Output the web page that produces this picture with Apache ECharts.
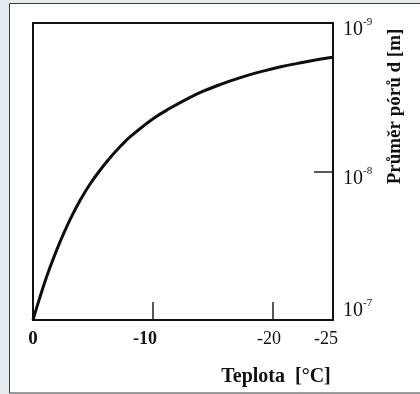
<!DOCTYPE html>
<html>
<head>
<meta charset="utf-8">
<script src="https://cdn.jsdelivr.net/npm/echarts@6/dist/echarts.min.js"></script>
<style>
  html, body { margin: 0; padding: 0; background: #e7ecf0; }
  #chart { width: 420px; height: 394px; }
</style>
</head>
<body>
<div id="chart"></div>
<script>
// Temperature (°C) and pore diameter d (m) along the freezing curve
const temperatures = [0, -0.25, -0.59, -1.0, -1.42, -1.98, -2.53, -3.24, -3.93, -4.77, -5.6, -6.44, -7.27, -8.11, -10.06, -11.45, -12.85, -14.24, -15.64, -17.14, -19.26, -20.65, -22.05, -23.44, -25];
const poreDiameters = [1.0e-7, 8.54e-8, 6.98e-8, 5.51e-8, 4.42e-8, 3.37e-8, 2.64e-8, 1.99e-8, 1.56e-8, 1.21e-8, 9.77e-9, 8.05e-9, 6.79e-9, 5.83e-9, 4.38e-9, 3.74e-9, 3.24e-9, 2.87e-9, 2.59e-9, 2.35e-9, 2.10e-9, 1.97e-9, 1.87e-9, 1.78e-9, 1.70e-9];

// Axis labels and inner ticks
const xLabelValues = [0, -10, -20, -25];
const xTickValues = [-10, -20];
const yLabelValues = [1e-9, 1e-8, 1e-7];
const yTickValues = [1e-8];

const SERIF = '"Liberation Serif", "DejaVu Serif", serif';

const chart = echarts.init(document.getElementById('chart'), null, { renderer: 'canvas' });

const xRich = {
  n0:  { fontFamily: SERIF, fontSize: 19, fontWeight: 'bold', color: '#111' },
  n10: { fontFamily: SERIF, fontSize: 18, fontWeight: 'bold', color: '#111', padding: [0, 16, 0, 0] },
  n20: { fontFamily: SERIF, fontSize: 18, color: '#111', padding: [0, 8, 0, 0] },
  n25: { fontFamily: SERIF, fontSize: 18, color: '#111', padding: [0, 14, 0, 0] }
};

const yRich = {
  b: { fontFamily: SERIF, fontSize: 20, color: '#111', lineHeight: 26, verticalAlign: 'middle' },
  s: { fontFamily: SERIF, fontSize: 11, color: '#111', lineHeight: 12, verticalAlign: 'top' },
  g: { fontSize: 10, lineHeight: 33 }
};

chart.setOption({
  backgroundColor: '#e7ecf0',
  animation: false,
  graphic: [{
    type: 'rect',
    z: -100,
    silent: true,
    shape: { x: 9.5, y: 3.5, width: 420, height: 389.5 },
    style: { fill: '#ffffff', stroke: '#3a3a3a', lineWidth: 1 }
  }],
  grid: {
    left: 33, right: 87, top: 23, bottom: 74,
    show: true,
    borderColor: '#111',
    borderWidth: 2,
    backgroundColor: 'transparent'
  },
  xAxis: {
    type: 'value',
    min: -25,
    max: 0,
    inverse: true,
    splitLine: { show: false },
    axisLine: { show: false, onZero: false },
    axisTick: {
      show: true,
      inside: true,
      length: 18,
      customValues: xTickValues,
      lineStyle: { color: '#222', width: 1.5 }
    },
    axisLabel: {
      show: true,
      margin: 10,
      customValues: xLabelValues,
      formatter: function (v) {
        const key = 'n' + Math.abs(Math.round(v));
        return '{' + key + '|' + (v === 0 ? '0' : String(Math.round(v))) + '}';
      },
      rich: xRich
    },
    name: 'Teplota  [°C]',
    nameLocation: 'middle',
    nameGap: 47,
    nameTextStyle: {
      fontFamily: SERIF, fontSize: 20, fontWeight: 'bold', color: '#111',
      padding: [0, 0, 0, 186]
    }
  },
  yAxis: {
    type: 'log',
    logBase: 10,
    min: 1e-9,
    max: 1e-7,
    inverse: true,
    position: 'right',
    splitLine: { show: false },
    minorTick: { show: false },
    axisLine: { show: false, onZero: false },
    axisTick: {
      show: true,
      inside: true,
      length: 19,
      customValues: yTickValues,
      lineStyle: { color: '#222', width: 1.5 }
    },
    axisLabel: {
      show: true,
      margin: 10,
      customValues: yLabelValues,
      padding: [14, 0, 0, 0],
      formatter: function (v) {
        const exp = Math.round(Math.log10(v));
        const txt = '{b|10}{s|' + exp + '}';
        return exp === -7 ? txt + '\n{g| }' : txt;
      },
      rich: yRich
    },
    name: 'Průměr pórů d [m]',
    nameLocation: 'middle',
    nameGap: 53,
    nameTextStyle: {
      fontFamily: SERIF, fontSize: 19, fontWeight: 'bold', color: '#111',
      padding: [0, 0, 0, 130]
    }
  },
  series: [{
    type: 'line',
    data: temperatures.map((t, i) => [t, poreDiameters[i]]),
    smooth: 0.4,
    showSymbol: false,
    lineStyle: { color: '#0d0d0d', width: 3 },
    clip: true
  }]
});
</script>
</body>
</html>
